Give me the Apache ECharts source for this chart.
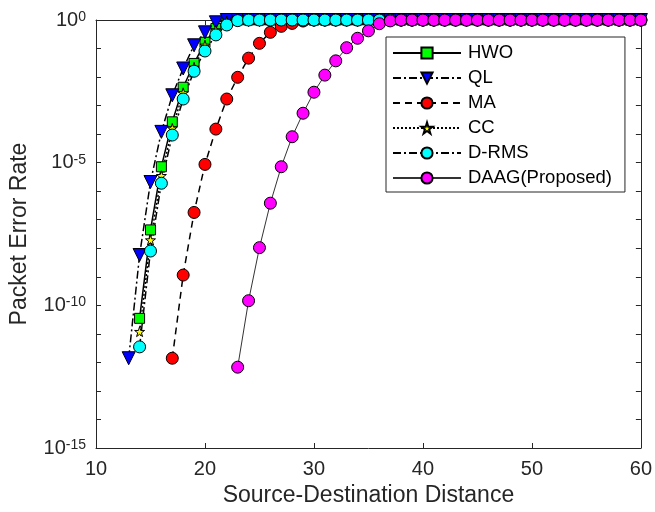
<!DOCTYPE html>
<html>
<head>
<meta charset="utf-8">
<script src="https://cdn.jsdelivr.net/npm/echarts@6/dist/echarts.min.js"></script>
<style>html,body{margin:0;padding:0;background:#fff;}#chart{width:655px;height:512px;}</style>
</head>
<body>
<div id="chart"></div>
<script>
// Source-Destination Distance (x)
var distance = [13,14,15,16,17,18,19,20,21,22,23,24,25,26,27,28,29,30,31,32,33,34,35,36,37,38,39,40,41,42,43,44,45,46,47,48,49,50,51,52,53,54,55,56,57,58,59,60];
// Packet Error Rate per scheme (aligned with distance; null = no point)
var hwo  = [null,3.5e-11,4.4e-8,7.2e-6,2.7e-4,4.4e-3,0.030,0.166,0.5,0.9,1,1,1,1,1,1,1,1,1,1,1,1,1,1,1,1,1,1,1,1,1,1,1,1,1,1,1,1,1,1,1,1,1,1,1,1,1,1];
var ql   = [1.4e-12,5.8e-9,2.1e-6,1.2e-4,2.3e-3,0.020,0.13,0.37,0.83,1,1,1,1,1,1,1,1,1,1,1,1,1,1,1,1,1,1,1,1,1,1,1,1,1,1,1,1,1,1,1,1,1,1,1,1,1,1,1];
var ma   = [null,null,null,null,1.4e-12,1.15e-9,1.8e-7,8.7e-6,1.5e-4,1.7e-3,9.8e-3,0.046,0.152,0.37,0.6,0.76,0.92,1,1,1,1,1,1,1,1,1,1,1,1,1,1,1,1,1,1,1,1,1,1,1,1,1,1,1,1,1,1,1];
var cc   = [null,1.2e-11,1.95e-8,3.5e-6,1.6e-4,2.8e-3,0.022,0.13,0.45,0.9,1,1,1,1,1,1,1,1,1,1,1,1,1,1,1,1,1,1,1,1,1,1,1,1,1,1,1,1,1,1,1,1,1,1,1,1,1,1];
var drms = [null,3.5e-12,8e-9,1.9e-6,9.3e-5,1.7e-3,0.016,0.082,0.30,0.67,0.95,1,1,1,1,1,1,1,1,1,1,1,1,1,1,1,1,1,1,1,1,1,1,1,1,1,1,1,1,1,1,1,1,1,1,1,1,1];
var daag = [null,null,null,null,null,null,null,null,null,null,6.8e-13,1.45e-10,1.05e-8,3.8e-7,7.2e-6,8.1e-5,5.4e-4,2.95e-3,0.0117,0.037,0.107,0.229,0.417,0.74,0.93,1,1,1,1,1,1,1,1,1,1,1,1,1,1,1,1,1,1,1,1,1,1,1];
var seriesNames = ['HWO','QL','MA','CC','D-RMS','DAAG(Proposed)'];
var xTicks = [10,20,30,40,50,60];
var yExponents = [-15,-10,-5,0];

var FONT = 'Liberation Sans, Arial, sans-serif';
var AX = '#262626';
var STAR = 'path://M50,0 L61,35 L98,35 L68,57 L79,91 L50,70 L21,91 L32,57 L2,35 L39,35 Z';

function pairs(vals) {
  var out = [];
  for (var i = 0; i < distance.length; i++) {
    if (vals[i] != null) out.push([distance[i], vals[i]]);
  }
  return out;
}

function mk(name, vals, symbol, size, color, lineType, lineWidth, lineColor, rotate) {
  return {
    name: name, type: 'line', data: pairs(vals),
    symbol: symbol, symbolSize: size, symbolRotate: rotate || 0,
    showAllSymbol: true,
    itemStyle: { color: color, borderColor: '#000', borderWidth: 1 },
    lineStyle: { color: lineColor || '#000', width: lineWidth, type: lineType },
    emphasis: { disabled: true },
    xAxisIndex: 0, yAxisIndex: 0
  };
}

var chart = echarts.init(document.getElementById('chart'), null, { renderer: 'canvas' });

var yAxisBase = {
  type: 'log', logBase: 10, min: 1e-15, max: 1, interval: 1,
  axisLine: { show: true, lineStyle: { color: AX, width: 1 } },
  axisTick: { show: true, inside: true, length: 5, lineStyle: { color: AX } },
  splitLine: { show: false }
};
var xAxisBase = {
  type: 'value', min: xTicks[0], max: xTicks[xTicks.length - 1], interval: 10,
  axisLine: { show: true, onZero: false, lineStyle: { color: AX, width: 1 } },
  axisTick: { show: true, inside: true, length: 5, lineStyle: { color: AX } },
  splitLine: { show: false }
};

chart.setOption({
  animation: false,
  backgroundColor: '#fff',
  textStyle: { fontFamily: FONT },
  grid: { left: 95, right: 10, top: 20, bottom: 64, containLabel: false },
  xAxis: [
    Object.assign({}, xAxisBase, {
      position: 'bottom',
      name: 'Source-Destination Distance', nameLocation: 'middle', nameGap: 36,
      nameTextStyle: { fontSize: 23, color: AX, fontFamily: FONT },
      axisLabel: { show: true, margin: 11, fontSize: 20, color: AX, fontFamily: FONT,
        formatter: function (v) { return xTicks.indexOf(v) >= 0 ? String(v) : ''; } }
    }),
    Object.assign({}, xAxisBase, { position: 'top', axisLabel: { show: false } })
  ],
  yAxis: [
    Object.assign({}, yAxisBase, {
      position: 'left',
      name: 'Packet Error Rate', nameLocation: 'middle', nameGap: 65, nameRotate: 90,
      nameTextStyle: { fontSize: 23, color: AX, fontFamily: FONT },
      axisLabel: {
        show: true, margin: 10, color: AX, fontFamily: FONT,
        formatter: function (v) {
          var e = Math.round(Math.log10(v));
          if (yExponents.indexOf(e) < 0) return '';
          return '{b|10}{s|' + e + '}';
        },
        rich: {
          b: { fontSize: 20, lineHeight: 20, verticalAlign: 'bottom', color: AX, fontFamily: FONT },
          s: { fontSize: 14, lineHeight: 14, verticalAlign: 'top', padding: [0, 0, 12, 0], color: AX, fontFamily: FONT }
        }
      }
    }),
    Object.assign({}, yAxisBase, { position: 'right', axisLabel: { show: false } })
  ],
  legend: {
    show: true, orient: 'vertical', left: 386, top: 37,
    data: seriesNames,
    selectedMode: false,
    itemWidth: 68, itemHeight: 14, itemGap: 5,
    padding: [6, 13, 4, 6],
    backgroundColor: '#fff', borderColor: AX, borderWidth: 1, borderRadius: 0,
    textStyle: { fontSize: 18.5, lineHeight: 20, color: '#000', fontFamily: FONT, padding: [0, 0, 0, 2] }
  },
  series: [
    mk(seriesNames[0], hwo, 'rect', 10, '#00ff00', 'solid', 1.5),
    mk(seriesNames[1], ql, 'triangle', 13, '#0000ff', [8, 3, 2, 3], 1.5, '#000', 180),
    mk(seriesNames[2], ma, 'circle', 12, '#ff0000', [7, 5], 1.5),
    mk(seriesNames[3], cc, STAR, 10, '#ffff00', [2, 2], 1.5),
    mk(seriesNames[4], drms, 'circle', 12, '#00ffff', [8, 3, 2, 3], 1.5),
    mk(seriesNames[5], daag, 'circle', 12, '#ff00ff', 'solid', 1, '#333')
  ]
});
</script>
</body>
</html>
